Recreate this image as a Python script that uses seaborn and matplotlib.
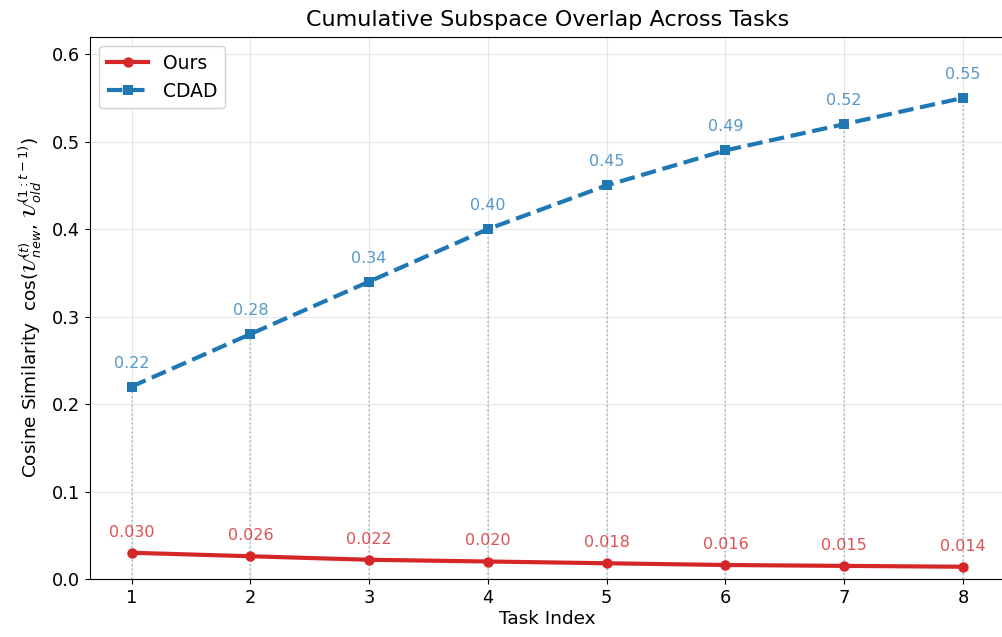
import matplotlib
matplotlib.use("Agg")
import matplotlib.pyplot as plt
import seaborn as sns
import pandas as pd

plt.rcParams["font.family"] = ["DejaVu Sans"]
plt.rcParams["mathtext.fontset"] = "dejavusans"

tasks = [1, 2, 3, 4, 5, 6, 7, 8]
ours = [0.030, 0.026, 0.022, 0.020, 0.018, 0.016, 0.015, 0.014]
cdad = [0.22, 0.28, 0.34, 0.40, 0.45, 0.49, 0.52, 0.55]
ours_labels = ["0.030", "0.026", "0.022", "0.020", "0.018", "0.016", "0.015", "0.014"]
cdad_labels = ["0.22", "0.28", "0.34", "0.40", "0.45", "0.49", "0.52", "0.55"]

red = "#d62728"
blue = "#1f77b4"

fig = plt.figure(figsize=(10.03, 6.37), dpi=100)
ax = fig.add_axes([90 / 1003, 58 / 637, 914.5 / 1003, 542.3 / 637])

df_o = pd.DataFrame({"task": tasks, "val": ours})
df_c = pd.DataFrame({"task": tasks, "val": cdad})

# vertical dotted guides
ax.vlines(tasks, 0, cdad, colors=blue, linestyles=":", linewidth=1.2, alpha=0.4, zorder=1)

sns.lineplot(data=df_o, x="task", y="val", ax=ax, color=red, marker="o", markersize=7.5,
             linewidth=3, markeredgewidth=0, label="Ours", zorder=3)
sns.lineplot(data=df_c, x="task", y="val", ax=ax, color=blue, marker="s", markersize=6.5,
             linewidth=3, linestyle="--", markeredgewidth=0, label="CDAD", zorder=3)

for x, y, s in zip(tasks, ours, ours_labels):
    ax.annotate(s, (x, y), xytext=(0, 9.5), textcoords="offset points", ha="center",
                va="bottom", fontsize=11.5, color=red, alpha=0.8)
for x, y, s in zip(tasks, cdad, cdad_labels):
    ax.annotate(s, (x, y), xytext=(0, 11.5), textcoords="offset points", ha="center",
                va="bottom", fontsize=11.5, color=blue, alpha=0.75)

ax.set_xlim(0.65, 8.35)
ax.set_ylim(0, 0.62)
ax.set_xticks(tasks)
ax.set_yticks([0.0, 0.1, 0.2, 0.3, 0.4, 0.5, 0.6])
ax.tick_params(labelsize=12.8)
ax.grid(True, alpha=0.3)
ax.set_axisbelow(True)
ax.spines["right"].set_visible(False)
ax.set_xlabel("Task Index", fontsize=13.3, labelpad=2)
ax.set_ylabel(r"Cosine Similarity  $\cos(\mathcal{U}_{new}^{(t)},\,\mathcal{U}_{old}^{(1:t-1)})$",
              fontsize=13.3, labelpad=6)
ax.set_title("Cumulative Subspace Overlap Across Tasks", fontsize=16, pad=8)
ax.legend(loc="upper left", fontsize=13.5, framealpha=0.9, handlelength=2.2)

fig.savefig("out.png", dpi=100)
